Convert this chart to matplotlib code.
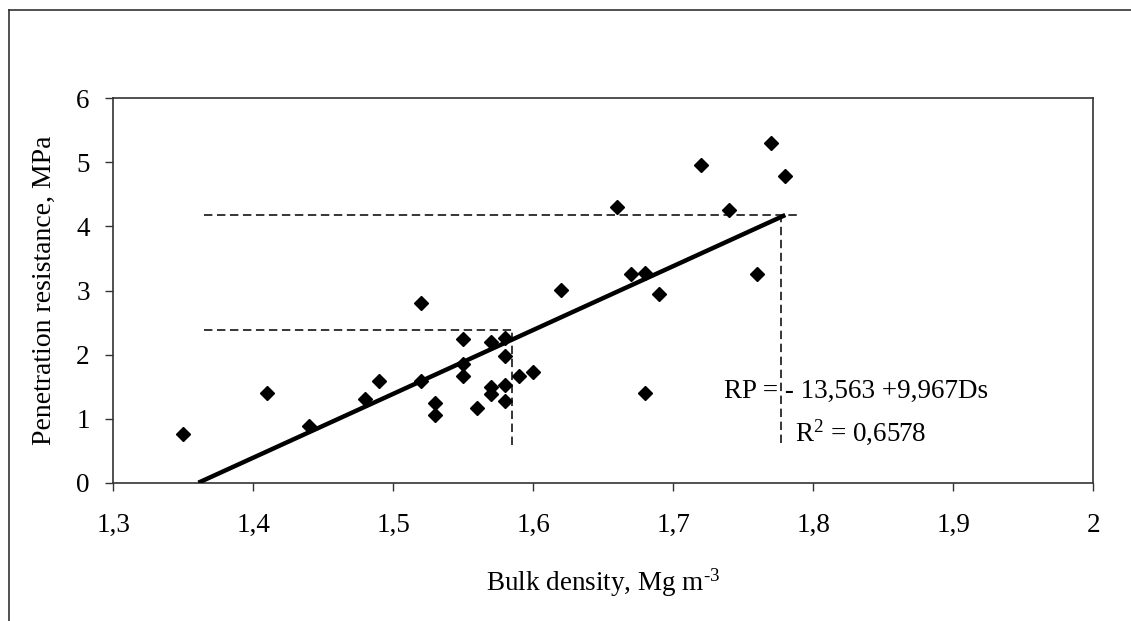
import matplotlib
matplotlib.use("Agg")
import matplotlib.pyplot as plt
from matplotlib.lines import Line2D
import numpy as np

# Data
bulk_density = [1.35, 1.41, 1.44, 1.48, 1.49, 1.52, 1.52, 1.53, 1.53, 1.55, 1.55, 1.55,
                1.56, 1.57, 1.57, 1.57, 1.58, 1.58, 1.58, 1.58, 1.59, 1.60, 1.62, 1.66,
                1.67, 1.68, 1.69, 1.68, 1.72, 1.74, 1.76, 1.77, 1.78]
penetration = [0.76, 1.40, 0.88, 1.30, 1.59, 2.80, 1.58, 1.24, 1.06, 2.24, 1.86, 1.67,
               1.16, 2.20, 1.50, 1.39, 2.26, 1.98, 1.52, 1.27, 1.67, 1.73, 3.01, 4.31,
               3.26, 3.27, 2.95, 1.40, 4.96, 4.25, 3.26, 5.30, 4.78]

intercept = -13.563
slope = 9.967
fit_x_end = 1.78

# Guide (dashed) lines
guide_x_start = 1.365
guide_upper_y = 4.18
guide_upper_x_end = 1.79
guide_upper_vx = 1.777
guide_upper_vy_bottom = 0.62
guide_lower_y = 2.386
guide_lower_vx = 1.585
guide_lower_vy_bottom = 0.59

x_ticks = [1.3, 1.4, 1.5, 1.6, 1.7, 1.8, 1.9, 2.0]
x_ticklabels = ["1,3", "1,4", "1,5", "1,6", "1,7", "1,8", "1,9", "2"]
y_ticks = [0, 1, 2, 3, 4, 5, 6]
y_ticklabels = ["0", "1", "2", "3", "4", "5", "6"]

plt.rcParams['font.family'] = ['Liberation Serif', 'DejaVu Serif']
plt.rcParams['mathtext.fontset'] = 'custom'
plt.rcParams['mathtext.rm'] = 'Liberation Serif'
plt.rcParams['mathtext.it'] = 'Liberation Serif:italic'
plt.rcParams['mathtext.bf'] = 'Liberation Serif:bold'

W, H = 1131, 621
fig = plt.figure(figsize=(W / 100, H / 100), dpi=100)
ax = fig.add_axes([113.3 / W, 1 - 482.7 / H, (1093.3 - 113.3) / W, (482.7 - 98.3) / H])

FS = 19.5

# Outer frame
frame_col = '#333333'
fig.add_artist(Line2D([9.3 / W, 9.3 / W], [0, 1 - 10 / H], transform=fig.transFigure,
                      color=frame_col, lw=1.2))
fig.add_artist(Line2D([9.3 / W, 1.0], [1 - 10 / H, 1 - 10 / H], transform=fig.transFigure,
                      color=frame_col, lw=1.2))

# Regression line
x0 = -intercept / slope
fx = np.array([x0, fit_x_end])
ax.plot(fx, intercept + slope * fx, color='black', lw=3.2, solid_capstyle='butt', zorder=3)

# Dashed guides
dash = (0, (5.5, 3))
ax.plot([guide_x_start, guide_upper_x_end], [guide_upper_y, guide_upper_y], color='black', lw=1.1, linestyle=dash)
ax.plot([guide_upper_vx, guide_upper_vx], [guide_upper_vy_bottom, guide_upper_y], color='black', lw=1.1, linestyle=dash)
ax.plot([guide_x_start, guide_lower_vx], [guide_lower_y, guide_lower_y], color='black', lw=1.1, linestyle=dash)
ax.plot([guide_lower_vx, guide_lower_vx], [guide_lower_vy_bottom, guide_lower_y], color='black', lw=1.1, linestyle=dash)

# Scatter
ax.plot(bulk_density, penetration, linestyle='none', marker='D', markersize=7.3,
        color='black', zorder=4)

ax.set_xlim(1.3, 2.0)
ax.set_ylim(0, 6)
ax.set_xticks(x_ticks)
ax.set_xticklabels(x_ticklabels, fontsize=FS)
ax.set_yticks(y_ticks)
ax.set_yticklabels(y_ticklabels, fontsize=FS)
ax.tick_params(direction='out', length=6, width=1, color='#333333')
ax.tick_params(axis='x', pad=16)
ax.tick_params(axis='y', pad=11)
for s in ax.spines.values():
    s.set_color('#333333')
    s.set_linewidth(1.2)

ax.set_xlabel("Bulk density, Mg m$^{\\text{-3}}$", fontsize=FS, labelpad=20)
ax.set_ylabel("Penetration resistance, MPa", fontsize=FS + 0.5, labelpad=14)

ax.text(1.736, 1.42, "RP = - 13,563 +9,967Ds", fontsize=FS, ha='left', va='center', zorder=5)
ax.text(1.787, 0.79, "R$^2$ = 0,6578", fontsize=FS, ha='left', va='center', zorder=5)

fig.savefig("out.png", dpi=100)
